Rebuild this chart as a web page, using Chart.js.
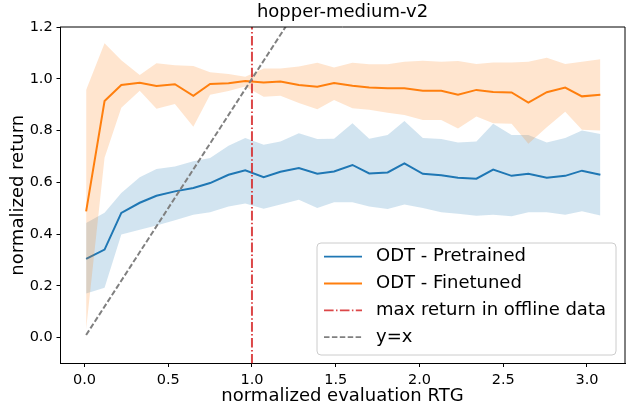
<!DOCTYPE html>
<html>
<head>
<meta charset="utf-8">
<script src="https://cdn.jsdelivr.net/npm/chart.js@4"></script>
<style>
  html, body { margin: 0; padding: 0; background: #fff; }
  #wrap { width: 633px; height: 415px; }
</style>
</head>
<body>
<div id="wrap"><canvas id="odtChart" width="633" height="415"></canvas></div>
<script>
// hopper-medium-v2: normalized return vs normalized evaluation RTG
const rtg = [0.01, 0.12, 0.22, 0.33, 0.43, 0.54, 0.65, 0.75, 0.86, 0.96,
             1.07, 1.17, 1.28, 1.39, 1.49, 1.60, 1.70, 1.81, 1.91, 2.02,
             2.13, 2.23, 2.34, 2.44, 2.55, 2.65, 2.76, 2.87, 2.97, 3.08];

const pretrainedMean  = [0.304, 0.340, 0.482, 0.521, 0.548, 0.565, 0.578, 0.597, 0.629, 0.646,
                         0.620, 0.641, 0.655, 0.633, 0.642, 0.667, 0.634, 0.638, 0.673, 0.633,
                         0.627, 0.618, 0.614, 0.649, 0.625, 0.633, 0.618, 0.625, 0.645, 0.629];
const pretrainedUpper = [0.443, 0.482, 0.559, 0.620, 0.651, 0.661, 0.681, 0.694, 0.741, 0.771,
                         0.745, 0.758, 0.790, 0.767, 0.768, 0.828, 0.768, 0.783, 0.837, 0.771,
                         0.767, 0.754, 0.758, 0.826, 0.783, 0.783, 0.754, 0.771, 0.800, 0.787];
const pretrainedLower = [0.170, 0.193, 0.398, 0.417, 0.433, 0.453, 0.475, 0.484, 0.507, 0.518,
                         0.498, 0.514, 0.533, 0.501, 0.523, 0.523, 0.507, 0.497, 0.514, 0.501,
                         0.484, 0.479, 0.471, 0.475, 0.469, 0.484, 0.484, 0.475, 0.488, 0.472];

const finetunedMean  = [0.488, 0.914, 0.976, 0.985, 0.972, 0.979, 0.934, 0.980, 0.983, 0.991,
                        0.986, 0.989, 0.976, 0.969, 0.984, 0.973, 0.966, 0.963, 0.963, 0.954,
                        0.954, 0.938, 0.957, 0.949, 0.947, 0.908, 0.948, 0.966, 0.932, 0.938];
const finetunedUpper = [0.957, 1.137, 1.072, 1.015, 1.060, 1.052, 1.049, 1.025, 1.018, 1.008,
                        1.040, 1.040, 1.047, 1.062, 1.044, 1.062, 1.056, 1.056, 1.066, 1.070,
                        1.066, 1.069, 1.057, 1.063, 1.063, 1.066, 1.081, 1.057, 1.066, 1.075];
const finetunedLower = [0.032, 0.695, 0.888, 0.954, 0.884, 0.903, 0.815, 0.938, 0.953, 0.970,
                        0.931, 0.934, 0.906, 0.882, 0.918, 0.886, 0.880, 0.869, 0.860, 0.841,
                        0.841, 0.808, 0.854, 0.828, 0.826, 0.749, 0.813, 0.873, 0.803, 0.800];

const maxOfflineReturn = 1.0;
const xTicks = [0, 0.5, 1.0, 1.5, 2.0, 2.5, 3.0];
const yTicks = [0, 0.2, 0.4, 0.6, 0.8, 1.0, 1.2];
const legendLabels = ['ODT - Pretrained', 'ODT - Finetuned', 'max return in offline data', 'y=x'];

const X_MIN = -0.146, X_MAX = 3.227, Y_MIN = -0.1, Y_MAX = 1.2;
const BLUE = '#1f77b4', ORANGE = '#ff7f0e', RED = 'rgba(214,39,40,0.85)', GRAY = '#808080';
const DASHDOT = [9.6, 2.4, 1.5, 2.4], DASHED = [5.5, 2.4];

function pts(ys) { return rtg.map((x, i) => ({ x: x, y: ys[i] })); }

Chart.defaults.font.family = '"DejaVu Sans", sans-serif';
Chart.defaults.color = '#000';

// title, top/right spines and legend box inside the axes (matplotlib style)
const axesExtras = {
  id: 'axesExtras',
  afterDraw(chart) {
    const ctx = chart.ctx, a = chart.chartArea;
    ctx.save();
    ctx.strokeStyle = '#000';
    ctx.lineWidth = 1;
    ctx.beginPath();
    ctx.moveTo(a.left, a.top); ctx.lineTo(a.right, a.top); ctx.lineTo(a.right, a.bottom);
    ctx.stroke();

    ctx.fillStyle = '#000';
    ctx.font = '18px "DejaVu Sans"';
    ctx.textAlign = 'center';
    ctx.textBaseline = 'alphabetic';
    ctx.fillText('hopper-medium-v2', (a.left + a.right) / 2, 17);

    const w = 299, h = 112;
    const x0 = a.right - 9 - w, y0 = a.bottom - 8.5 - h;
    ctx.beginPath();
    ctx.roundRect(x0, y0, w, h, 4);
    ctx.fillStyle = 'rgba(255,255,255,0.8)';
    ctx.fill();
    ctx.strokeStyle = '#cccccc';
    ctx.stroke();
    const styles = [[BLUE, []], [ORANGE, []], [RED, DASHDOT], [GRAY, DASHED]];
    ctx.textAlign = 'left';
    ctx.textBaseline = 'middle';
    legendLabels.forEach((label, i) => {
      const y = y0 + 13.7 + i * 26.8;
      ctx.strokeStyle = styles[i][0];
      ctx.setLineDash(styles[i][1]);
      ctx.lineWidth = 1.8;
      ctx.beginPath(); ctx.moveTo(x0 + 7, y); ctx.lineTo(x0 + 45, y); ctx.stroke();
      ctx.setLineDash([]);
      ctx.fillStyle = '#000';
      ctx.fillText(label, x0 + 59, y);
    });
    ctx.restore();
  }
};

const line = (data, color, extra) => Object.assign({
  data: data, borderColor: color, borderWidth: 2, pointRadius: 0, tension: 0, fill: false
}, extra || {});

new Chart(document.getElementById('odtChart').getContext('2d'), {
  type: 'line',
  data: {
    datasets: [
      line([{ x: rtg[0], y: rtg[0] }, { x: rtg[rtg.length - 1], y: rtg[rtg.length - 1] }], GRAY,
           { borderDash: DASHED, order: 0 }),
      line([{ x: maxOfflineReturn, y: Y_MIN }, { x: maxOfflineReturn, y: Y_MAX }], RED,
           { borderDash: DASHDOT, order: 1 }),
      line(pts(finetunedMean), ORANGE, { order: 2 }),
      line(pts(finetunedUpper), 'transparent', { borderWidth: 0, fill: '+1', backgroundColor: 'rgba(255,127,14,0.2)', order: 3 }),
      line(pts(finetunedLower), 'transparent', { borderWidth: 0, order: 4 }),
      line(pts(pretrainedMean), BLUE, { order: 5 }),
      line(pts(pretrainedUpper), 'transparent', { borderWidth: 0, fill: '+1', backgroundColor: 'rgba(31,119,180,0.2)', order: 6 }),
      line(pts(pretrainedLower), 'transparent', { borderWidth: 0, order: 7 })
    ]
  },
  options: {
    responsive: false,
    animation: false,
    layout: { padding: { top: 27, right: 8, left: 0, bottom: 0 } },
    plugins: { legend: { display: false }, tooltip: { enabled: false } },
    scales: {
      x: {
        type: 'linear', min: X_MIN, max: X_MAX,
        afterBuildTicks: s => { s.ticks = xTicks.map(v => ({ value: v })); },
        afterFit: s => { s.height = 51.5; },
        ticks: { font: { size: 14.5 }, padding: 4.5, maxRotation: 0, callback: v => v.toFixed(1) },
        grid: { drawOnChartArea: false, drawTicks: true, tickLength: 3.5, tickColor: '#000' },
        border: { display: true, color: '#000', width: 1 },
        title: { display: true, text: 'normalized evaluation RTG', font: { size: 18 }, padding: { top: 0, bottom: 7.5 } }
      },
      y: {
        type: 'linear', min: Y_MIN, max: Y_MAX,
        afterBuildTicks: s => { s.ticks = yTicks.map(v => ({ value: v })); },
        afterFit: s => { s.width = 60; },
        ticks: { font: { size: 14.5 }, padding: 3.8, callback: v => v.toFixed(1) },
        grid: { drawOnChartArea: false, drawTicks: true, tickLength: 3.5, tickColor: '#000' },
        border: { display: true, color: '#000', width: 1 },
        title: { display: true, text: 'normalized return', font: { size: 18 }, padding: { top: 7.8, bottom: 0 } }
      }
    }
  },
  plugins: [axesExtras]
});
</script>
</body>
</html>
